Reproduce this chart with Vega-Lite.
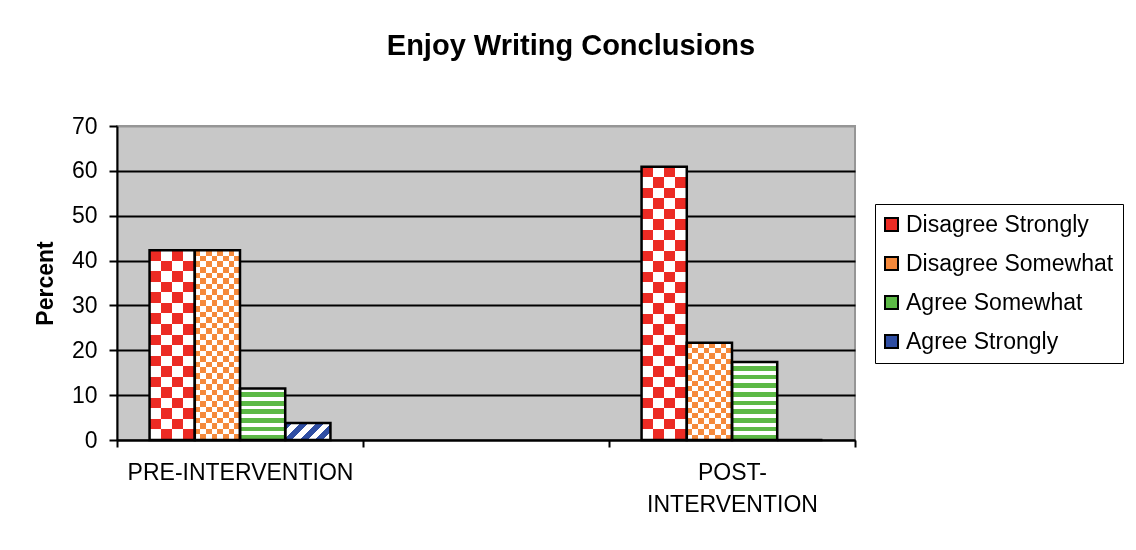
{
  "$schema": "https://vega.github.io/schema/vega-lite/v6.json",
  "autosize": "none",
  "width": 738,
  "height": 314,
  "padding": {"left": 117, "top": 126, "right": 281, "bottom": 110},
  "background": "white",
  "title": {"text": "Enjoy Writing Conclusions", "fontSize": 29, "fontWeight": "bold", "color": "black", "anchor": "middle", "frame": "group", "dx": 85, "offset": 31, "baseline": "alphabetic"},
  "config": {
    "font": "Liberation Sans",
    "view": {"fill": "#C8C8C8", "stroke": "#969696", "strokeWidth": 2}
  },
  "data": {"values": [
    {"group": "PRE-INTERVENTION", "series": "Disagree Strongly", "value": 42.3},
    {"group": "PRE-INTERVENTION", "series": "Disagree Somewhat", "value": 42.3},
    {"group": "PRE-INTERVENTION", "series": "Agree Somewhat", "value": 11.5},
    {"group": "PRE-INTERVENTION", "series": "Agree Strongly", "value": 3.8},
    {"group": "POST-INTERVENTION", "series": "Disagree Strongly", "value": 60.9},
    {"group": "POST-INTERVENTION", "series": "Disagree Somewhat", "value": 21.7},
    {"group": "POST-INTERVENTION", "series": "Agree Somewhat", "value": 17.4},
    {"group": "POST-INTERVENTION", "series": "Agree Strongly", "value": 0}
  ]},
  "encoding": {
    "x": {"field": "group", "type": "nominal", "title": null,
      "scale": {"domain": ["PRE-INTERVENTION", "gap", "POST-INTERVENTION"], "paddingInner": 0, "paddingOuter": 0},
      "axis": {"tickBand": "extent", "labelExpr": "datum.value === 'gap' ? '' : (datum.value === 'POST-INTERVENTION' ? ['POST-', 'INTERVENTION'] : datum.value)", "labelAngle": 0, "labelBaseline": "top", "labelFontSize": 23, "labelColor": "black", "labelPadding": 14, "labelLineHeight": 32, "labelLimit": 0, "labelOverlap": false, "tickSize": 7, "tickColor": "black", "tickWidth": 2, "domainColor": "black", "domainWidth": 2, "grid": false}},
    "xOffset": {"field": "series", "type": "nominal",
      "scale": {"domain": ["Disagree Strongly", "Disagree Somewhat", "Agree Somewhat", "Agree Strongly"], "paddingInner": 0, "paddingOuter": 0.72}},
    "y": {"field": "value", "type": "quantitative", "title": "Percent",
      "scale": {"domain": [0, 70], "nice": false},
      "axis": {"values": [0, 10, 20, 30, 40, 50, 60, 70], "grid": true, "gridColor": {"condition": {"test": "datum.value === 70", "value": "#969696"}, "value": "black"}, "gridWidth": 2, "domainColor": "black", "domainWidth": 2, "tickColor": "black", "tickWidth": 2, "tickSize": 8, "labelFontSize": 23, "labelColor": "black", "labelPadding": 12, "titleFontSize": 23, "titleFontWeight": "bold", "titleColor": "black", "titlePadding": 14}}
  },
  "layer": [
    {"mark": {"type": "bar", "fill": "white", "strokeWidth": 0}},
    {"mark": {"type": "bar", "blend": "difference", "strokeWidth": 0},
     "encoding": {"fill": {"condition": [
        {"test": "datum.series === 'Disagree Strongly'", "value": {"gradient": "linear", "x1": 0, "y1": 0, "x2": 1, "y2": 0, "stops": [{"offset": 0, "color": "white"}, {"offset": 0.25, "color": "white"}, {"offset": 0.25, "color": "black"}, {"offset": 0.5, "color": "black"}, {"offset": 0.5, "color": "white"}, {"offset": 0.75, "color": "white"}, {"offset": 0.75, "color": "black"}, {"offset": 1, "color": "black"}]}},
        {"test": "datum.series === 'Disagree Somewhat'", "value": {"gradient": "linear", "x1": 0, "y1": 0, "x2": 1, "y2": 0, "stops": [{"offset": 0, "color": "white"}, {"offset": 0.125, "color": "white"}, {"offset": 0.125, "color": "black"}, {"offset": 0.25, "color": "black"}, {"offset": 0.25, "color": "white"}, {"offset": 0.375, "color": "white"}, {"offset": 0.375, "color": "black"}, {"offset": 0.5, "color": "black"}, {"offset": 0.5, "color": "white"}, {"offset": 0.625, "color": "white"}, {"offset": 0.625, "color": "black"}, {"offset": 0.75, "color": "black"}, {"offset": 0.75, "color": "white"}, {"offset": 0.875, "color": "white"}, {"offset": 0.875, "color": "black"}, {"offset": 1, "color": "black"}]}}
      ], "value": "black"}}},
    {"mark": {"type": "bar", "blend": "difference", "strokeWidth": 0},
     "encoding": {"fill": {"condition": [
        {"test": "datum.series === 'Disagree Strongly' && datum.group === 'PRE-INTERVENTION'", "value": {"gradient": "linear", "x1": 0, "y1": 0, "x2": 0, "y2": 1, "stops": [{"offset": 0, "color": "black"}, {"offset": 0.0556, "color": "black"}, {"offset": 0.0556, "color": "white"}, {"offset": 0.1111, "color": "white"}, {"offset": 0.1111, "color": "black"}, {"offset": 0.1667, "color": "black"}, {"offset": 0.1667, "color": "white"}, {"offset": 0.2222, "color": "white"}, {"offset": 0.2222, "color": "black"}, {"offset": 0.2778, "color": "black"}, {"offset": 0.2778, "color": "white"}, {"offset": 0.3333, "color": "white"}, {"offset": 0.3333, "color": "black"}, {"offset": 0.3889, "color": "black"}, {"offset": 0.3889, "color": "white"}, {"offset": 0.4444, "color": "white"}, {"offset": 0.4444, "color": "black"}, {"offset": 0.5, "color": "black"}, {"offset": 0.5, "color": "white"}, {"offset": 0.5556, "color": "white"}, {"offset": 0.5556, "color": "black"}, {"offset": 0.6111, "color": "black"}, {"offset": 0.6111, "color": "white"}, {"offset": 0.6667, "color": "white"}, {"offset": 0.6667, "color": "black"}, {"offset": 0.7222, "color": "black"}, {"offset": 0.7222, "color": "white"}, {"offset": 0.7778, "color": "white"}, {"offset": 0.7778, "color": "black"}, {"offset": 0.8333, "color": "black"}, {"offset": 0.8333, "color": "white"}, {"offset": 0.8889, "color": "white"}, {"offset": 0.8889, "color": "black"}, {"offset": 0.9444, "color": "black"}, {"offset": 0.9444, "color": "white"}, {"offset": 1, "color": "white"}]}},
        {"test": "datum.series === 'Disagree Strongly'", "value": {"gradient": "linear", "x1": 0, "y1": 0, "x2": 0, "y2": 1, "stops": [{"offset": 0, "color": "black"}, {"offset": 0.0385, "color": "black"}, {"offset": 0.0385, "color": "white"}, {"offset": 0.0769, "color": "white"}, {"offset": 0.0769, "color": "black"}, {"offset": 0.1154, "color": "black"}, {"offset": 0.1154, "color": "white"}, {"offset": 0.1538, "color": "white"}, {"offset": 0.1538, "color": "black"}, {"offset": 0.1923, "color": "black"}, {"offset": 0.1923, "color": "white"}, {"offset": 0.2308, "color": "white"}, {"offset": 0.2308, "color": "black"}, {"offset": 0.2692, "color": "black"}, {"offset": 0.2692, "color": "white"}, {"offset": 0.3077, "color": "white"}, {"offset": 0.3077, "color": "black"}, {"offset": 0.3462, "color": "black"}, {"offset": 0.3462, "color": "white"}, {"offset": 0.3846, "color": "white"}, {"offset": 0.3846, "color": "black"}, {"offset": 0.4231, "color": "black"}, {"offset": 0.4231, "color": "white"}, {"offset": 0.4615, "color": "white"}, {"offset": 0.4615, "color": "black"}, {"offset": 0.5, "color": "black"}, {"offset": 0.5, "color": "white"}, {"offset": 0.5385, "color": "white"}, {"offset": 0.5385, "color": "black"}, {"offset": 0.5769, "color": "black"}, {"offset": 0.5769, "color": "white"}, {"offset": 0.6154, "color": "white"}, {"offset": 0.6154, "color": "black"}, {"offset": 0.6538, "color": "black"}, {"offset": 0.6538, "color": "white"}, {"offset": 0.6923, "color": "white"}, {"offset": 0.6923, "color": "black"}, {"offset": 0.7308, "color": "black"}, {"offset": 0.7308, "color": "white"}, {"offset": 0.7692, "color": "white"}, {"offset": 0.7692, "color": "black"}, {"offset": 0.8077, "color": "black"}, {"offset": 0.8077, "color": "white"}, {"offset": 0.8462, "color": "white"}, {"offset": 0.8462, "color": "black"}, {"offset": 0.8846, "color": "black"}, {"offset": 0.8846, "color": "white"}, {"offset": 0.9231, "color": "white"}, {"offset": 0.9231, "color": "black"}, {"offset": 0.9615, "color": "black"}, {"offset": 0.9615, "color": "white"}, {"offset": 1, "color": "white"}]}},
        {"test": "datum.series === 'Disagree Somewhat' && datum.group === 'PRE-INTERVENTION'", "value": {"gradient": "linear", "x1": 0, "y1": 0, "x2": 0, "y2": 1, "stops": [{"offset": 0, "color": "black"}, {"offset": 0.0294, "color": "black"}, {"offset": 0.0294, "color": "white"}, {"offset": 0.0588, "color": "white"}, {"offset": 0.0588, "color": "black"}, {"offset": 0.0882, "color": "black"}, {"offset": 0.0882, "color": "white"}, {"offset": 0.1176, "color": "white"}, {"offset": 0.1176, "color": "black"}, {"offset": 0.1471, "color": "black"}, {"offset": 0.1471, "color": "white"}, {"offset": 0.1765, "color": "white"}, {"offset": 0.1765, "color": "black"}, {"offset": 0.2059, "color": "black"}, {"offset": 0.2059, "color": "white"}, {"offset": 0.2353, "color": "white"}, {"offset": 0.2353, "color": "black"}, {"offset": 0.2647, "color": "black"}, {"offset": 0.2647, "color": "white"}, {"offset": 0.2941, "color": "white"}, {"offset": 0.2941, "color": "black"}, {"offset": 0.3235, "color": "black"}, {"offset": 0.3235, "color": "white"}, {"offset": 0.3529, "color": "white"}, {"offset": 0.3529, "color": "black"}, {"offset": 0.3824, "color": "black"}, {"offset": 0.3824, "color": "white"}, {"offset": 0.4118, "color": "white"}, {"offset": 0.4118, "color": "black"}, {"offset": 0.4412, "color": "black"}, {"offset": 0.4412, "color": "white"}, {"offset": 0.4706, "color": "white"}, {"offset": 0.4706, "color": "black"}, {"offset": 0.5, "color": "black"}, {"offset": 0.5, "color": "white"}, {"offset": 0.5294, "color": "white"}, {"offset": 0.5294, "color": "black"}, {"offset": 0.5588, "color": "black"}, {"offset": 0.5588, "color": "white"}, {"offset": 0.5882, "color": "white"}, {"offset": 0.5882, "color": "black"}, {"offset": 0.6176, "color": "black"}, {"offset": 0.6176, "color": "white"}, {"offset": 0.6471, "color": "white"}, {"offset": 0.6471, "color": "black"}, {"offset": 0.6765, "color": "black"}, {"offset": 0.6765, "color": "white"}, {"offset": 0.7059, "color": "white"}, {"offset": 0.7059, "color": "black"}, {"offset": 0.7353, "color": "black"}, {"offset": 0.7353, "color": "white"}, {"offset": 0.7647, "color": "white"}, {"offset": 0.7647, "color": "black"}, {"offset": 0.7941, "color": "black"}, {"offset": 0.7941, "color": "white"}, {"offset": 0.8235, "color": "white"}, {"offset": 0.8235, "color": "black"}, {"offset": 0.8529, "color": "black"}, {"offset": 0.8529, "color": "white"}, {"offset": 0.8824, "color": "white"}, {"offset": 0.8824, "color": "black"}, {"offset": 0.9118, "color": "black"}, {"offset": 0.9118, "color": "white"}, {"offset": 0.9412, "color": "white"}, {"offset": 0.9412, "color": "black"}, {"offset": 0.9706, "color": "black"}, {"offset": 0.9706, "color": "white"}, {"offset": 1, "color": "white"}]}},
        {"test": "datum.series === 'Disagree Somewhat'", "value": {"gradient": "linear", "x1": 0, "y1": 0, "x2": 0, "y2": 1, "stops": [{"offset": 0, "color": "black"}, {"offset": 0.0556, "color": "black"}, {"offset": 0.0556, "color": "white"}, {"offset": 0.1111, "color": "white"}, {"offset": 0.1111, "color": "black"}, {"offset": 0.1667, "color": "black"}, {"offset": 0.1667, "color": "white"}, {"offset": 0.2222, "color": "white"}, {"offset": 0.2222, "color": "black"}, {"offset": 0.2778, "color": "black"}, {"offset": 0.2778, "color": "white"}, {"offset": 0.3333, "color": "white"}, {"offset": 0.3333, "color": "black"}, {"offset": 0.3889, "color": "black"}, {"offset": 0.3889, "color": "white"}, {"offset": 0.4444, "color": "white"}, {"offset": 0.4444, "color": "black"}, {"offset": 0.5, "color": "black"}, {"offset": 0.5, "color": "white"}, {"offset": 0.5556, "color": "white"}, {"offset": 0.5556, "color": "black"}, {"offset": 0.6111, "color": "black"}, {"offset": 0.6111, "color": "white"}, {"offset": 0.6667, "color": "white"}, {"offset": 0.6667, "color": "black"}, {"offset": 0.7222, "color": "black"}, {"offset": 0.7222, "color": "white"}, {"offset": 0.7778, "color": "white"}, {"offset": 0.7778, "color": "black"}, {"offset": 0.8333, "color": "black"}, {"offset": 0.8333, "color": "white"}, {"offset": 0.8889, "color": "white"}, {"offset": 0.8889, "color": "black"}, {"offset": 0.9444, "color": "black"}, {"offset": 0.9444, "color": "white"}, {"offset": 1, "color": "white"}]}},
        {"test": "datum.series === 'Agree Somewhat' && datum.group === 'PRE-INTERVENTION'", "value": {"gradient": "linear", "x1": 0, "y1": 0, "x2": 0, "y2": 1, "stops": [{"offset": 0, "color": "black"}, {"offset": 0.075, "color": "black"}, {"offset": 0.075, "color": "white"}, {"offset": 0.1667, "color": "white"}, {"offset": 0.1667, "color": "black"}, {"offset": 0.2417, "color": "black"}, {"offset": 0.2417, "color": "white"}, {"offset": 0.3333, "color": "white"}, {"offset": 0.3333, "color": "black"}, {"offset": 0.4083, "color": "black"}, {"offset": 0.4083, "color": "white"}, {"offset": 0.5, "color": "white"}, {"offset": 0.5, "color": "black"}, {"offset": 0.575, "color": "black"}, {"offset": 0.575, "color": "white"}, {"offset": 0.6667, "color": "white"}, {"offset": 0.6667, "color": "black"}, {"offset": 0.7417, "color": "black"}, {"offset": 0.7417, "color": "white"}, {"offset": 0.8333, "color": "white"}, {"offset": 0.8333, "color": "black"}, {"offset": 0.9083, "color": "black"}, {"offset": 0.9083, "color": "white"}, {"offset": 1, "color": "white"}]}},
        {"test": "datum.series === 'Agree Somewhat'", "value": {"gradient": "linear", "x1": 0, "y1": 0, "x2": 0, "y2": 1, "stops": [{"offset": 0, "color": "black"}, {"offset": 0.05, "color": "black"}, {"offset": 0.05, "color": "white"}, {"offset": 0.1111, "color": "white"}, {"offset": 0.1111, "color": "black"}, {"offset": 0.1611, "color": "black"}, {"offset": 0.1611, "color": "white"}, {"offset": 0.2222, "color": "white"}, {"offset": 0.2222, "color": "black"}, {"offset": 0.2722, "color": "black"}, {"offset": 0.2722, "color": "white"}, {"offset": 0.3333, "color": "white"}, {"offset": 0.3333, "color": "black"}, {"offset": 0.3833, "color": "black"}, {"offset": 0.3833, "color": "white"}, {"offset": 0.4444, "color": "white"}, {"offset": 0.4444, "color": "black"}, {"offset": 0.4944, "color": "black"}, {"offset": 0.4944, "color": "white"}, {"offset": 0.5556, "color": "white"}, {"offset": 0.5556, "color": "black"}, {"offset": 0.6056, "color": "black"}, {"offset": 0.6056, "color": "white"}, {"offset": 0.6667, "color": "white"}, {"offset": 0.6667, "color": "black"}, {"offset": 0.7167, "color": "black"}, {"offset": 0.7167, "color": "white"}, {"offset": 0.7778, "color": "white"}, {"offset": 0.7778, "color": "black"}, {"offset": 0.8278, "color": "black"}, {"offset": 0.8278, "color": "white"}, {"offset": 0.8889, "color": "white"}, {"offset": 0.8889, "color": "black"}, {"offset": 0.9389, "color": "black"}, {"offset": 0.9389, "color": "white"}, {"offset": 1, "color": "white"}]}},
        {"test": "datum.series === 'Agree Strongly'", "value": {"gradient": "linear", "x1": 0, "y1": 0, "x2": 1.206, "y2": 0.456, "stops": [{"offset": 0, "color": "white"}, {"offset": 0.125, "color": "white"}, {"offset": 0.125, "color": "black"}, {"offset": 0.25, "color": "black"}, {"offset": 0.25, "color": "white"}, {"offset": 0.375, "color": "white"}, {"offset": 0.375, "color": "black"}, {"offset": 0.5, "color": "black"}, {"offset": 0.5, "color": "white"}, {"offset": 0.625, "color": "white"}, {"offset": 0.625, "color": "black"}, {"offset": 0.75, "color": "black"}, {"offset": 0.75, "color": "white"}, {"offset": 0.875, "color": "white"}, {"offset": 0.875, "color": "black"}, {"offset": 1, "color": "black"}]}}
      ], "value": "black"}}},
    {"mark": {"type": "bar", "blend": "screen", "strokeWidth": 0},
     "encoding": {"fill": {"field": "series", "type": "nominal",
        "scale": {"domain": ["Disagree Strongly", "Disagree Somewhat", "Agree Somewhat", "Agree Strongly"], "range": ["#EC2B24", "#F5893B", "#5CB946", "#2F4EA3"]},
        "legend": {"title": null, "orient": "none", "legendX": 758, "legendY": 78, "fillColor": "white", "strokeColor": "black", "padding": 9, "rowPadding": 15, "symbolType": "square", "symbolSize": 169, "symbolOffset": -4, "symbolStrokeColor": "black", "symbolStrokeWidth": 2, "symbolOpacity": 1, "labelFontSize": 23, "labelColor": "black", "labelOffset": 3, "labelLimit": 0}}}},
    {"mark": {"type": "bar", "filled": false, "stroke": "black", "strokeWidth": 2.5}}
  ]
}
